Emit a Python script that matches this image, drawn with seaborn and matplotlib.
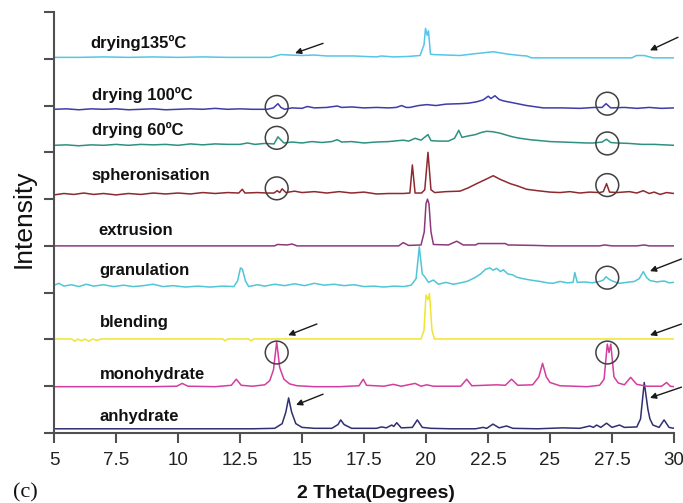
import matplotlib
matplotlib.use("Agg")
import matplotlib.pyplot as plt
import seaborn as sns
import pandas as pd

# ---------------- data ----------------
anhydrate = [(5.0,0.09),(7.0,0.09),(9.0,0.09),(11.0,0.09),(13.0,0.09),(13.9,0.1),(14.2,0.2),(14.35,0.45),(14.46,0.75),
             (14.58,0.45),(14.75,0.2),(15.0,0.12),(15.5,0.1),(16.2,0.1),(16.45,0.18),(16.56,0.28),(16.7,0.18),(17.0,0.1),
             (18.0,0.1),(18.21,0.13),(18.4,0.11),(18.62,0.17),(18.7,0.14),(18.82,0.22),(19.0,0.11),(19.45,0.12),(19.65,0.28),
             (19.85,0.12),(20.2,0.1),(21.0,0.09),(22.0,0.09),(22.3,0.12),(22.45,0.1),(22.7,0.19),(22.95,0.11),(23.25,0.15),
             (23.5,0.1),(24.5,0.09),(25.5,0.11),(26.2,0.1),(26.6,0.15),(26.75,0.12),(26.88,0.17),(27.05,0.12),(27.28,0.21),
             (27.5,0.12),(27.8,0.17),(28.0,0.12),(28.5,0.13),(28.65,0.3),(28.8,1.08),(28.95,0.5),(29.03,0.3),(29.15,0.17),
             (29.4,0.12),(29.6,0.28),(29.8,0.12),(30.0,0.1)]
monohydrate = [(5.0,0.99),(7,0.99),(9,0.99),(9.95,1.0),(10.17,1.06),(10.4,1.0),(11.5,0.99),(12.15,1.02),(12.35,1.15),
               (12.55,1.02),(13.0,1.0),(13.5,1.03),(13.7,1.12),(13.85,1.35),(13.98,1.95),(14.1,1.4),(14.27,1.15),(14.5,1.05),
               (14.8,1.01),(15.5,0.99),(16.5,0.99),(17.3,1.01),(17.47,1.15),(17.6,1.02),(18.3,1.0),(18.68,1.04),(19.0,1.0),
               (19.56,1.06),(19.8,1.0),(20.03,1.03),(20.3,1.0),(21.4,1.0),(21.64,1.15),(21.85,1.01),(22.85,1.03),(23.2,1.02),
               (23.45,1.15),(23.7,1.02),(24.3,1.03),(24.55,1.2),(24.7,1.49),(24.85,1.2),(25.0,1.08),(25.4,1.01),(26.5,0.99),
               (27.0,1.02),(27.18,1.15),(27.31,1.9),(27.38,1.72),(27.45,1.9),(27.58,1.2),(27.75,1.07),(28.0,1.03),(28.25,1.19),
               (28.5,1.04),(28.9,1.0),(29.5,1.0),(29.7,1.08),(29.85,1.0),(30.0,0.99)]
blending = [(5.0,2.01),(5.7,2.01),(5.85,1.96),(5.95,2.01),(6.1,1.97),(6.25,2.01),(6.4,1.96),(6.55,2.01),(6.75,1.98),
            (6.9,2.01),(9,2.01),(11.8,2.01),(11.9,1.97),(12.0,2.01),(12.85,2.01),(12.95,1.97),(13.05,2.01),(19.8,2.01),
            (19.92,2.2),(20.0,2.95),(20.08,2.85),(20.14,2.98),(20.24,2.2),(20.34,2.01),(30,2.01)]
granulation = [(5.0,3.16),(5.2,3.2),(5.4,3.14),(5.7,3.17),(6.0,3.13),(6.3,3.18),(6.6,3.14),(7.0,3.17),(7.4,3.13),(7.8,3.16),
               (8.2,3.13),(8.6,3.15),(9.0,3.18),(9.4,3.13),(9.8,3.15),(10.3,3.12),(10.8,3.14),(11.3,3.12),(11.8,3.14),
               (12.25,3.13),(12.4,3.25),(12.52,3.53),(12.6,3.5),(12.72,3.25),(12.85,3.13),(13.2,3.17),(13.5,3.14),(13.9,3.18),
               (14.3,3.15),(14.7,3.19),(15.1,3.15),(15.5,3.2),(15.9,3.16),(16.3,3.18),(16.7,3.15),(17.1,3.17),(17.5,3.13),
               (17.9,3.14),(18.3,3.12),(18.7,3.14),(19.1,3.13),(19.4,3.16),(19.6,3.3),(19.73,3.98),(19.85,3.4),(19.95,3.34),
               (20.1,3.22),(20.3,3.27),(20.5,3.18),(20.8,3.22),(21.1,3.18),(21.4,3.21),(21.7,3.25),(22.0,3.33),(22.2,3.4),
               (22.4,3.5),(22.58,3.53),(22.7,3.48),(22.85,3.52),(23.0,3.45),(23.12,3.49),(23.3,3.4),(23.5,3.38),(23.66,3.33),
               (23.9,3.3),(24.1,3.28),(24.33,3.26),(24.6,3.24),(24.9,3.21),(25.12,3.2),(25.4,3.24),(25.7,3.21),(25.93,3.22),
               (26.0,3.43),(26.1,3.22),(26.4,3.23),(26.7,3.21),(27.0,3.24),(27.15,3.27),(27.26,3.34),(27.4,3.28),(27.56,3.24),
               (27.8,3.2),(28.1,3.22),(28.4,3.24),(28.6,3.3),(28.76,3.45),(28.9,3.32),(29.03,3.26),(29.3,3.23),(29.6,3.25),
               (29.8,3.21),(30.0,3.22)]
extrusion = [(5.0,4.0),(13.9,4.0),(14.0,4.03),(14.4,4.02),(14.6,4.04),(14.8,4.0),(18.9,4.0),(19.08,4.07),(19.3,4.01),
             (19.8,4.02),(19.93,4.3),(20.0,4.9),(20.06,5.0),(20.12,4.9),(20.2,4.3),(20.3,4.03),(20.9,4.02),(21.24,4.1),
             (21.5,4.02),(22.0,4.02),(22.1,4.05),(23.2,4.05),(23.3,4.02),(24.4,4.01),(25,4.0),(27,4.0),(27.2,4.02),
             (27.5,4.0),(28.5,4.0),(28.8,4.02),(29.0,4.0),(30,4.0)]
spheronisation = [(5.0,5.09),(5.4,5.12),(5.8,5.1),(6.2,5.13),(6.6,5.1),(7.0,5.12),(7.5,5.09),(8.0,5.12),(8.5,5.1),(9.0,5.13),
                  (9.5,5.11),(10.0,5.13),(10.5,5.11),(11.0,5.14),(11.5,5.12),(12.0,5.14),(12.45,5.13),(12.59,5.21),(12.7,5.13),
                  (13.2,5.14),(13.6,5.13),(13.87,5.13),(14.0,5.18),(14.1,5.14),(14.2,5.22),(14.35,5.14),(14.7,5.17),(15.0,5.14),
                  (15.5,5.16),(16.0,5.13),(16.5,5.16),(17.0,5.13),(17.5,5.15),(18.0,5.11),(18.5,5.12),(19.08,5.12),(19.35,5.13),
                  (19.45,5.73),(19.56,5.13),(19.82,5.13),(19.95,5.2),(20.08,6.0),(20.2,5.2),(20.35,5.14),(20.8,5.16),(21.37,5.17),
                  (21.7,5.24),(22.04,5.33),(22.4,5.42),(22.71,5.5),(23.0,5.42),(23.4,5.33),(23.7,5.28),(24.06,5.21),(24.5,5.18),
                  (25.0,5.15),(25.4,5.14),(25.8,5.16),(26.2,5.13),(26.6,5.15),(27.0,5.14),(27.15,5.16),(27.28,5.33),(27.4,5.15),
                  (27.7,5.14),(28.2,5.16),(28.5,5.13),(28.76,5.18),(29.0,5.12),(29.2,5.15),(29.44,5.1),(29.7,5.14),(30.0,5.12)]
drying60 = [(5.0,6.15),(5.5,6.16),(6.0,6.14),(6.5,6.16),(7.0,6.15),(7.5,6.17),(8.0,6.15),(8.5,6.17),(9.0,6.16),(9.5,6.17),
            (10.0,6.15),(10.5,6.18),(11.0,6.16),(11.5,6.18),(12.0,6.17),(12.5,6.17),(12.8,6.2),(13.1,6.17),(13.5,6.19),
            (13.87,6.18),(14.03,6.33),(14.27,6.2),(14.6,6.22),(15.0,6.2),(15.4,6.23),(15.8,6.21),(16.2,6.23),(16.42,6.27),
            (16.6,6.22),(17.0,6.23),(17.5,6.2),(18.0,6.22),(18.5,6.23),(19.08,6.26),(19.3,6.24),(19.56,6.3),(19.8,6.26),
            (20.08,6.38),(20.2,6.25),(20.5,6.24),(20.9,6.24),(21.15,6.3),(21.32,6.47),(21.45,6.32),(21.7,6.35),(22.0,6.38),
            (22.2,6.42),(22.44,6.45),(22.7,6.44),(22.98,6.41),(23.3,6.36),(23.5,6.33),(23.79,6.3),(24.2,6.27),(24.6,6.25),
            (25.0,6.23),(25.5,6.22),(26.0,6.21),(26.5,6.2),(26.75,6.2),(27.1,6.22),(27.28,6.28),(27.45,6.21),(27.7,6.2),
            (28.2,6.19),(28.7,6.17),(29.2,6.17),(29.6,6.16),(30.0,6.15)]
drying100 = [(5.0,6.92),(5.5,6.93),(6.0,6.91),(6.5,6.93),(7.0,6.92),(7.5,6.93),(8.0,6.91),(8.5,6.92),(9.0,6.93),(9.5,6.91),
             (10.0,6.92),(10.5,6.93),(11.0,6.92),(11.5,6.94),(12.0,6.92),(12.5,6.93),(13.0,6.92),(13.6,6.92),(13.85,6.95),
             (14.03,7.04),(14.15,6.96),(14.3,6.92),(14.6,6.95),(15.0,6.94),(15.21,6.98),(15.5,6.95),(16.0,6.96),(16.42,6.99),
             (16.6,6.96),(17.0,6.97),(17.5,6.95),(18.0,6.96),(18.5,6.95),(18.8,6.96),(19.02,7.0),(19.2,6.96),(19.35,6.96),
             (19.7,7.0),(20.03,7.02),(20.4,7.0),(20.8,7.03),(21.37,7.04),(21.7,7.05),(22.04,7.08),(22.3,7.12),(22.51,7.2),
             (22.62,7.15),(22.78,7.21),(22.95,7.13),(23.12,7.1),(23.5,7.06),(24.06,7.0),(24.73,6.95),(25.5,6.95),(26.2,6.94),
             (26.8,6.96),(27.1,6.96),(27.26,7.04),(27.45,6.95),(28.0,6.96),(28.5,6.94),(29.0,6.96),(29.5,6.94),(30.0,6.95)]
drying135 = [(5.0,8.03),(6.0,8.03),(7.0,8.04),(8.0,8.03),(9.0,8.04),(10.0,8.03),(11.0,8.04),(12.0,8.03),(13.0,8.03),
             (13.73,8.03),(14.14,8.09),(14.5,8.08),(15.0,8.07),(15.48,8.08),(16.0,8.06),(17.1,8.06),(17.5,8.05),(18.0,8.04),
             (18.2,8.06),(18.68,8.04),(19.3,8.05),(19.76,8.07),(19.92,8.3),(19.98,8.65),(20.05,8.5),(20.1,8.6),(20.18,8.1),
             (20.3,8.09),(21.37,8.07),(22.0,8.11),(22.71,8.15),(23.3,8.1),(23.8,8.07),(24.06,8.06),(24.26,8.02),(26.0,8.02),
             (28.3,8.02),(28.49,8.07),(28.8,8.07),(29.16,8.02),(30.0,8.02)]

series_names = ["anhydrate", "monohydrate", "blending", "granulation", "extrusion",
                "spheronisation", "drying 60ºC", "drying 100ºC", "drying135ºC"]
series_points = [anhydrate, monohydrate, blending, granulation, extrusion,
                 spheronisation, drying60, drying100, drying135]
series_colors = ["#2f2f72", "#d43d9f", "#f0e530", "#4fc6d6", "#8a3a7c",
                 "#8c2a30", "#2e9080", "#3c3caa", "#55c5e8"]
# label anchor (x, y) in data units
label_pos = [(6.85, 0.26), (6.85, 1.15), (6.85, 2.27), (6.81, 3.38), (6.77, 4.23),
             (6.53, 5.41), (6.54, 6.37), (6.53, 7.12), (6.45, 8.23)]

circle_x = [13.98, 27.31, 13.98, 27.31, 13.98, 27.31, 27.31, 13.98, 27.31]
circle_y = [6.97, 7.04, 6.31, 6.19, 5.23, 5.30, 3.32, 1.72, 1.72]

# arrows: (head_x, head_y, tail_x, tail_y)
arrows = [(14.72, 8.12, 15.85, 8.33), (29.03, 8.18, 30.16, 8.46), (29.03, 3.46, 30.3, 3.72),
          (14.44, 2.09, 15.6, 2.33), (29.03, 2.09, 30.3, 2.33), (14.76, 0.60, 15.85, 0.83),
          (29.03, 0.75, 30.3, 0.98)]

xticks = [5, 7.5, 10, 12.5, 15, 17.5, 20, 22.5, 25, 27.5, 30]
xtick_labels = ["5", "7.5", "10", "12.5", "15", "17.5", "20", "22.5", "25", "27.5", "30"]

# ---------------- plotting ----------------
sns.set_style("ticks")
plt.rcParams["font.family"] = ["Liberation Sans", "DejaVu Sans"]

fig = plt.figure(figsize=(6.83, 5.03), dpi=100)
ax = fig.add_axes([54 / 683, 70 / 503, 620 / 683, 421 / 503])

for name, pts, col in zip(series_names, series_points, series_colors):
    df = pd.DataFrame(pts, columns=["x", "y"])
    sns.lineplot(data=df, x="x", y="y", color=col, lw=1.1, sort=False,
                 estimator=None, ax=ax, legend=False)

for name, (lx, ly) in zip(series_names, label_pos):
    ax.text(lx, ly, name, fontsize=12, fontweight="bold", color="#111111",
            ha="left", va="baseline")

ax.scatter(circle_x, circle_y, s=270, facecolors="none", edgecolors="#404040",
           linewidths=1.1, zorder=5)

for hx, hy, tx, ty in arrows:
    ax.annotate("", xy=(hx, hy), xytext=(tx, ty), annotation_clip=False,
                arrowprops=dict(arrowstyle="-|>", color="#1a1a1a", lw=1.0,
                                mutation_scale=9, shrinkA=0, shrinkB=0))

ax.set_xlim(5, 30)
ax.set_ylim(0, 9)
ax.set_xticks(xticks)
ax.set_xticklabels(xtick_labels, fontsize=13.5, color="#222222")
ax.set_yticks(range(0, 10))
ax.set_yticklabels([])
ax.set_xlabel("")
ax.set_ylabel("")
for s in ["top", "right"]:
    ax.spines[s].set_visible(False)
for s in ["left", "bottom"]:
    ax.spines[s].set_color("#505050")
    ax.spines[s].set_linewidth(1.5)
ax.tick_params(axis="both", direction="out", length=7, width=1.5, color="#505050")
ax.tick_params(axis="x", pad=7)

fig.text(24 / 683, 1 - 219 / 503, "Intensity", rotation=90, fontsize=19,
         ha="center", va="center", color="#111111")
fig.text(376 / 683, 5 / 503, "2 Theta(Degrees)", fontsize=14, fontweight="bold",
         ha="center", va="baseline", color="#111111")
fig.text(13 / 683, 6 / 503, "(c)", fontsize=16, family=["Liberation Serif", "DejaVu Serif"],
         ha="left", va="baseline", color="#111111")

fig.savefig("out.png", dpi=100)
